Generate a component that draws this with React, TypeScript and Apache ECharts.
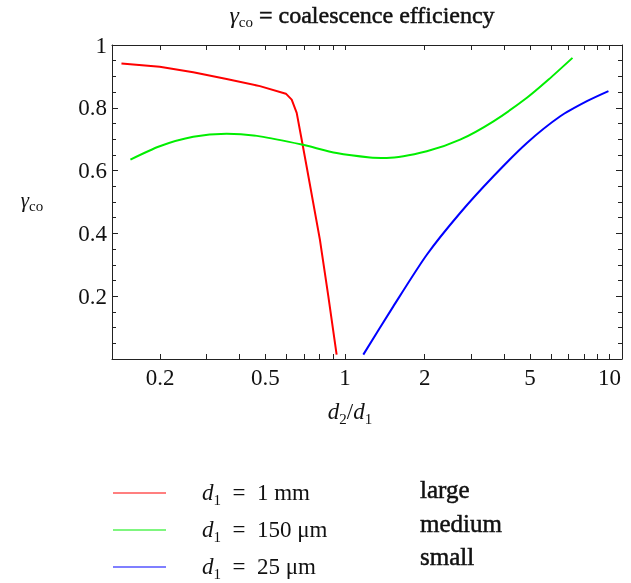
import React, { useEffect, useRef } from "react";
import * as echarts from "echarts";

// d2/d1 ratios and coalescence efficiencies
const ratioLarge = [0.143, 0.1995, 0.267, 0.357, 0.477, 0.598, 0.629, 0.657, 0.686, 0.716, 0.804, 0.865, 0.93];
const effLarge = [0.941, 0.931, 0.913, 0.892, 0.869, 0.845, 0.826, 0.784, 0.699, 0.614, 0.38, 0.2, 0.014];

const ratioMedium = [0.1546, 0.1995, 0.267, 0.357, 0.477, 0.686, 0.93, 1.243, 1.438, 2.038, 2.723, 3.64, 4.87, 5.88, 7.24];
const effMedium = [0.635, 0.6775, 0.7075, 0.717, 0.709, 0.683, 0.656, 0.642, 0.6405, 0.6616, 0.6985, 0.757, 0.832, 0.89, 0.959];

const ratioSmall = [1.173, 1.523, 2.038, 2.723, 3.64, 4.87, 6.51, 8.21, 9.9];
const effSmall = [0.014, 0.1676, 0.332, 0.465, 0.582, 0.688, 0.773, 0.821, 0.853];

const xMajorTicks = [0.2, 0.5, 1, 2, 5, 10];
const xAllTicks = [0.2, 0.3, 0.4, 0.5, 0.6, 0.7, 0.8, 0.9, 1, 2, 3, 4, 5, 6, 7, 8, 9, 10];
const xRange = [0.1317, 11.14];

const seriesNames = ["d1 = 1 mm", "d1 = 150 μm", "d1 = 25 μm"];
const seriesColors = ["#ff0000", "#00ee00", "#0000ff"];
const sizeWords = ["large", "medium", "small"];
const legendAmounts = ["1 mm", "150 μm", "25 μm"];

const FONT = '"Liberation Serif", "DejaVu Serif", serif';
const lg = Math.log10;

function pairs(xs: number[], ys: number[]) {
  return xs.map((x, i) => [lg(x), ys[i]]);
}

function mathRich(size: number, sub: number, lh: number) {
  return {
    i: { fontFamily: FONT, fontStyle: "italic", fontSize: size, lineHeight: lh, verticalAlign: "middle", fill: "#111" },
    s: { fontFamily: FONT, fontSize: sub, lineHeight: sub, verticalAlign: "bottom", fill: "#111" },
    n: { fontFamily: FONT, fontSize: size, lineHeight: lh, verticalAlign: "middle", fill: "#111" },
    b: { fontFamily: FONT, fontSize: size, lineHeight: lh, verticalAlign: "middle", fill: "#111", stroke: "#111", lineWidth: 0.5 },
  };
}

export default function App() {
  const ref = useRef<HTMLDivElement>(null);
  useEffect(() => {
    if (!ref.current) return;
    const chart = echarts.init(ref.current, null, { renderer: "svg" });
    const axisLine = { show: true, onZero: false, lineStyle: { color: "#222", width: 1 } };
    const xCommon = {
      type: "value",
      min: lg(xRange[0]),
      max: lg(xRange[1]),
      splitLine: { show: false },
      axisLine,
    };
    const yCommon = {
      type: "value",
      min: 0,
      max: 1,
      interval: 0.2,
      splitLine: { show: false },
      axisLine,
      axisTick: { show: true, inside: true, length: 6, lineStyle: { color: "#222" } },
      minorTick: { show: true, splitNumber: 4, length: 4, lineStyle: { color: "#222" } },
    };
    const legendGraphics: any[] = [];
    const legendY = [493, 530, 567];
    seriesNames.forEach((name, k) => {
      legendGraphics.push({
        type: "line",
        shape: { x1: 113, y1: legendY[k], x2: 166, y2: legendY[k] },
        style: { stroke: seriesColors[k], lineWidth: 1.2 },
      });
      legendGraphics.push({
        type: "text",
        x: 202,
        y: legendY[k] - 1,
        style: {
          text: "{i|d}{s|1}{n|  =  " + legendAmounts[k] + "}",
          rich: mathRich(23, 15, 30),
          align: "left",
          verticalAlign: "middle",
        },
      });
      legendGraphics.push({
        type: "text",
        x: 420,
        y: [489, 523, 556][k],
        style: {
          text: sizeWords[k],
          fontFamily: FONT,
          fontSize: 25,
          fill: "#111",
          stroke: "#111",
          lineWidth: 0.5,
          align: "left",
          verticalAlign: "middle",
        },
      });
    });

    chart.setOption({
      animation: false,
      grid: { left: 112, top: 45, width: 510, height: 314, containLabel: false },
      xAxis: [
        {
          ...xCommon,
          position: "bottom",
          axisTick: {
            show: true,
            inside: true,
            length: 5,
            customValues: xAllTicks.map(lg),
            lineStyle: { color: "#222" },
          },
          axisLabel: {
            show: true,
            customValues: xMajorTicks.map(lg),
            margin: 7,
            fontFamily: FONT,
            fontSize: 23,
            color: "#111",
            formatter: (v: number) => String(Math.round(Math.pow(10, v) * 10) / 10),
          },
        },
        {
          ...xCommon,
          position: "top",
          axisTick: {
            show: true,
            inside: true,
            length: 5,
            customValues: xAllTicks.map(lg),
            lineStyle: { color: "#222" },
          },
          axisLabel: { show: false },
        },
      ],
      yAxis: [
        {
          ...yCommon,
          position: "left",
          axisLabel: {
            show: true,
            margin: 5,
            fontFamily: FONT,
            fontSize: 23,
            color: "#111",
            padding: [5, 0, 0, 0],
            formatter: (v: number) => (v === 0 ? "" : v === 1 ? "1" : v.toFixed(1)),
          },
        },
        { ...yCommon, position: "right", axisLabel: { show: false } },
      ],
      series: [
        { name: seriesNames[0], type: "line", data: pairs(ratioLarge, effLarge), showSymbol: false, smooth: false, lineStyle: { color: seriesColors[0], width: 2 }, itemStyle: { color: seriesColors[0] } },
        { name: seriesNames[1], type: "line", data: pairs(ratioMedium, effMedium), showSymbol: false, smooth: 0.25, lineStyle: { color: seriesColors[1], width: 2 }, itemStyle: { color: seriesColors[1] } },
        { name: seriesNames[2], type: "line", data: pairs(ratioSmall, effSmall), showSymbol: false, smooth: 0.25, lineStyle: { color: seriesColors[2], width: 2 }, itemStyle: { color: seriesColors[2] } },
      ],
      graphic: [
        {
          type: "text",
          x: 362,
          y: 15,
          style: {
            text: "{i|γ}{s|co}{b| = coalescence efficiency}",
            rich: mathRich(24, 15, 28),
            align: "center",
            verticalAlign: "middle",
          },
        },
        {
          type: "text",
          x: 32,
          y: 200,
          style: {
            text: "{i|γ}{s|co}",
            rich: mathRich(21, 15, 26),
            align: "center",
            verticalAlign: "middle",
          },
        },
        {
          type: "text",
          x: 350,
          y: 411,
          style: {
            text: "{i|d}{s|2}{n|/}{i|d}{s|1}",
            rich: mathRich(23, 15, 30),
            align: "center",
            verticalAlign: "middle",
          },
        },
        ...legendGraphics,
      ],
    });
    return () => chart.dispose();
  }, []);
  return <div ref={ref} style={{ position: "fixed", left: 0, top: 0, width: 631, height: 583 }} />;
}
